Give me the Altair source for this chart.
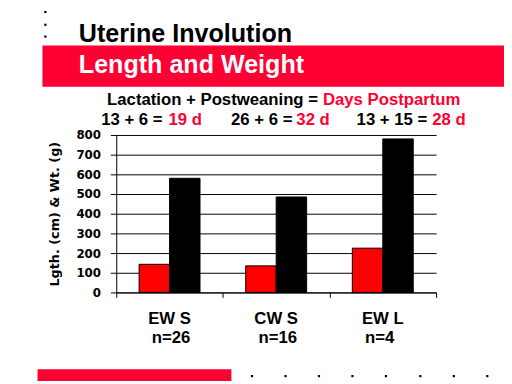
import altair as alt
import pandas as pd

# ---- data ----
groups = ["EW S", "CW S", "EW L"]
sample_sizes = ["n=26", "n=16", "n=4"]
measures = ["Length (cm)", "Weight (g)"]
length_cm = [143, 135, 225]
weight_g = [580, 485, 780]
y_ticks = [0, 100, 200, 300, 400, 500, 600, 700, 800]

title_text = "Uterine Involution"
banner_text = "Length and Weight"
formula_black = "Lactation + Postweaning ="
formula_red = "Days Postpartum"
sum_black = ["13 + 6 =", "26 + 6 =", "13 + 15 ="]
sum_red = ["19 d", "32 d", "28 d"]
y_title = "Lgth. (cm) & Wt. (g)"

FONT = "Liberation Sans"
RED_BAR = "#ff0000"
RED_TXT = "#ff0033"

rows = []
for g, l, w in zip(groups, length_cm, weight_g):
    rows.append({"group": g, "measure": measures[0], "value": l})
    rows.append({"group": g, "measure": measures[1], "value": w})
df = pd.DataFrame(rows)
lab_df = pd.DataFrame({"group": groups, "n": sample_sizes})

x_enc = alt.X(
    "group:N", sort=groups,
    scale=alt.Scale(paddingInner=0, paddingOuter=0),
    axis=alt.Axis(title=None, labels=False, domainColor="black", tickColor="black",
                  tickSize=5, tickBand="extent", grid=False, domainWidth=1),
)

y_enc = alt.Y(
    "value:Q",
    scale=alt.Scale(domain=[0, 800], nice=False),
    axis=alt.Axis(
        values=y_ticks, title=y_title, grid=True, gridColor="black", gridOpacity=1,
        domainColor="black", tickColor="black", tickSize=6,
        labelFont="DejaVu Sans", labelFontWeight="bold", labelFontSize=12,
        labelColor="black", labelPadding=10,
        titleFont="DejaVu Sans", titleFontSize=13, titleFontWeight="bold",
        titleColor="black", titleAngle=270, titleX=-63, titleY=80,
        titleAlign="center", titleBaseline="middle",
    ),
)

bars = alt.Chart(df).mark_bar(stroke="black", strokeWidth=1).encode(
    x=x_enc,
    xOffset=alt.XOffset("measure:N", sort=measures,
                        scale=alt.Scale(paddingOuter=0.75, paddingInner=0)),
    y=y_enc,
    color=alt.Color("measure:N", scale=alt.Scale(domain=measures, range=[RED_BAR, "black"]),
                    legend=None),
)

cat_labels = alt.Chart(lab_df).mark_text(
    font=FONT, fontSize=17, fontWeight="bold", baseline="alphabetic", align="center", color="black"
).encode(x=x_enc, y=alt.value(192), text="group:N")

n_labels = alt.Chart(lab_df).mark_text(
    font=FONT, fontSize=17, fontWeight="bold", baseline="alphabetic", align="left", dx=-18,
    color="black"
).encode(x=x_enc, y=alt.value(211), text="n:N")


def note(text, x, y, size, color="black", weight="bold", align="left"):
    return alt.Chart(pd.DataFrame({"t": [text]})).mark_text(
        font=FONT, fontSize=size, fontWeight=weight, color=color, align=align,
        baseline="alphabetic"
    ).encode(x=alt.value(x), y=alt.value(y), text="t:N")


def box(x, x2, y, y2, color):
    return alt.Chart(pd.DataFrame({"t": [0]})).mark_rect(color=color).encode(
        x=alt.value(x), x2=alt.value(x2), y=alt.value(y), y2=alt.value(y2)
    )


def dot(x, y):
    return alt.Chart(pd.DataFrame({"t": [0]})).mark_square(
        color="black", size=5, opacity=1
    ).encode(x=alt.value(x), y=alt.value(y))


layers = [
    box(-75, 394, -91, -49, RED_TXT),
    box(-80, 117, 238, 250, RED_TXT),
    note(title_text, -38, -94, 25.5),
    note(banner_text, -38, -63, 25.5, color="white"),
    note(formula_black, 205, -30, 17, align="right"),
    note(formula_red, 210, -30, 17, color=RED_TXT),
    note(sum_black[0], 47, -10, 17, align="right"),
    note(sum_red[0], 53, -10, 17, color=RED_TXT),
    note(sum_black[1], 179, -10, 17, align="right"),
    note(sum_red[1], 183, -10, 17, color=RED_TXT),
    note(sum_black[2], 316, -10, 17, align="right"),
    note(sum_red[2], 321, -10, 17, color=RED_TXT),
]
for yy in (-125, -112, -100):
    layers.append(dot(-72, yy))
for xx in (138, 172, 206, 240, 274, 309, 343, 377):
    layers.append(dot(xx, 245))

chart = alt.layer(bars, cat_labels, n_labels, *layers).properties(
    width=325, height=160,
    padding={"left": 110, "top": 126, "right": 69, "bottom": 90},
    autosize=alt.AutoSizeParams(type="none"),
    background="white",
).configure_view(stroke=None)

chart.save("out.html", embed_options={"renderer": "svg", "actions": False})
